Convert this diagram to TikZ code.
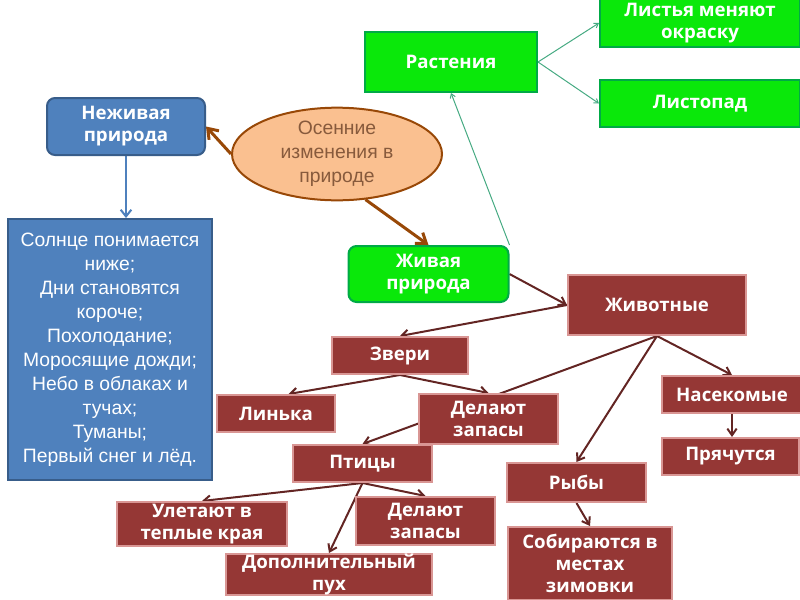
\documentclass[tikz,border=0pt]{standalone}
\usepackage{fontspec}
\setmainfont{Liberation Sans}
\newfontfamily\boxfont{Open Sans}
\usetikzlibrary{arrows.meta,shapes.geometric,backgrounds}
\definecolor{grnfill}{RGB}{10,232,10}
\definecolor{grnline}{RGB}{0,170,70}
\definecolor{bluefill}{RGB}{79,129,189}
\definecolor{blueline}{RGB}{56,93,138}
\definecolor{redfill}{RGB}{149,55,53}
\definecolor{redline}{RGB}{217,150,148}
\definecolor{peach}{RGB}{250,192,144}
\definecolor{brownline}{RGB}{152,72,7}
\definecolor{browntext}{RGB}{135,90,60}
\definecolor{arrowred}{RGB}{99,37,35}
\definecolor{tealline}{RGB}{70,170,130}

\begin{document}
\begin{tikzpicture}[x=0.75pt,y=-0.75pt,
  boxsize/.style 2 args={minimum width=#1*0.75pt,minimum height=#2*0.75pt},
  label font/.style={font=\boxfont\bfseries\fontsize{14pt}{16.5pt}\selectfont},
  greenbox/.style={draw=grnline,fill=grnfill,line width=1.5pt,text=white,align=center,inner sep=0pt,label font},
  redbox/.style={draw=redline,fill=redfill,line width=1.5pt,text=white,align=center,inner sep=0pt,label font},
  bluebox/.style={draw=blueline,fill=bluefill,line width=1.5pt,text=white,align=center,inner sep=0pt},
  redarrow/.style={arrowred,line width=1.5pt,-{Straight Barb[length=5pt,width=7pt]}},
  brownarrow/.style={brownline,line width=2.25pt,-{Straight Barb[length=7pt,width=10pt]}},
  tealarrow/.style={tealline,line width=0.75pt,-{Straight Barb[length=3pt,width=4pt]}}]
 \useasboundingbox (0,0) rectangle (800,600);
 \node[greenbox,boxsize={172}{60}] (rast) at (451,62) {Растения};
 \node[greenbox,boxsize={200}{48}] (leaves) at (700,23) {Листья меняют\\окраску};
 \node[greenbox,boxsize={200}{47}] (leaffall) at (700,103.5) {Листопад};
 \node[bluebox,label font,rounded corners=6pt,boxsize={158}{57}] (nonliving) at (126,126.5) {Неживая\\природа};
 \node[ellipse,draw=brownline,fill=peach,line width=1.5pt,text=browntext,align=center,inner sep=0pt,
   boxsize={210}{82},font=\fontsize{14.5pt}{18pt}\selectfont] (autumn) at (337,154) {Осенние\\изменения в\\природе};
 \node[bluebox,boxsize={204}{261},font=\fontsize{14.5pt}{18pt}\selectfont] (weather) at (110,349.5)
   {Солнце понимается\\ниже;\\Дни становятся\\короче;\\Похолодание;\\Моросящие дожди;\\Небо в облаках и\\тучах;\\Туманы;\\Первый снег и лёд.};
 \node[greenbox,rounded corners=6pt,boxsize={160}{56}] (living) at (428.5,274) {Живая\\природа};
 \node[redbox,boxsize={178}{60}] (animals) at (657,305) {Животные};
 \node[redbox,boxsize={136}{37}] (beasts) at (400,355.5) {Звери};
 \node[redbox,boxsize={118}{37}] (moult) at (276,413.5) {Линька};
 \node[redbox,boxsize={139}{50}] (storeA) at (488.5,419) {Делают\\запасы};
 \node[redbox,boxsize={140}{37}] (insects) at (732,394.5) {Насекомые};
 \node[redbox,boxsize={137}{37}] (hide) at (730.5,456.5) {Прячутся};
 \node[redbox,boxsize={139}{37}] (birds) at (362.5,463.5) {Птицы};
 \node[redbox,boxsize={139}{39}] (fish) at (576.5,482.5) {Рыбы};
 \node[redbox,boxsize={170}{44}] (south) at (202,524) {Улетают в\\теплые края};
 \node[redbox,boxsize={139}{48}] (storeB) at (425.5,521) {Делают\\запасы};
 \node[redbox,boxsize={206}{39}] (down) at (329,574.5) {Дополнительный\\пух};
 \node[redbox,boxsize={164}{73}] (winter) at (590,563.5) {Собираются в\\местах\\зимовки};
 \begin{scope}[on background layer]
  \draw[tealarrow] (rast.east) -- (leaves.west);
  \draw[tealarrow] (rast.east) -- (leaffall.west);
  \draw[tealarrow] (living.north east) -- (rast.south);
  \draw[brownarrow] (autumn.west) -- (nonliving.east);
  \draw[brownarrow] (autumn.-58) -- (living.north);
  \draw[bluefill,line width=1.5pt,-{Straight Barb[length=5pt,width=8pt]}] (nonliving.south) -- (nonliving.south |- weather.north);
  \draw[redarrow] (living.east) -- (animals.west);
  \draw[redarrow] (animals.west) -- (beasts.north);
  \draw[redarrow] (animals.south) -- (birds.north);
  \draw[redarrow] (animals.south) -- (fish.north);
  \draw[redarrow] (animals.south) -- (insects.north);
  \draw[redarrow] (insects.south) -- (insects.south |- hide.north);
  \draw[redarrow] (beasts.south) -- (moult.57);
  \draw[redarrow] (beasts.south) -- (storeA.north);
  \draw[redarrow] (birds.south) -- (south.north);
  \draw[redarrow] (birds.south) -- (storeB.north);
  \draw[redarrow] (birds.south) -- (down.north);
  \draw[redarrow] (fish.south) -- (winter.north);
 \end{scope}
\end{tikzpicture}
\end{document}
